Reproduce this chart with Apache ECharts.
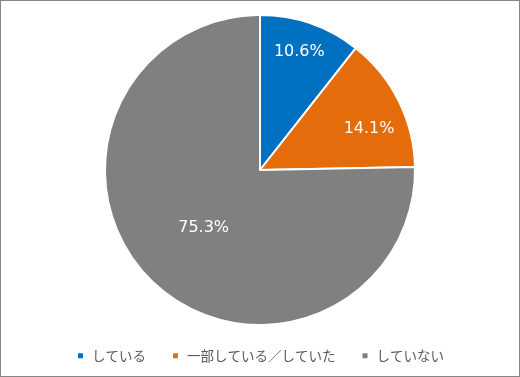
<!DOCTYPE html>
<html>
<head>
<meta charset="utf-8">
<script src="https://cdn.jsdelivr.net/npm/echarts@6/dist/echarts.min.js"></script>
<style>
  html, body { margin: 0; padding: 0; background: #fff; }
  #chart { width: 520px; height: 377px; box-sizing: border-box; border: 1px solid #868686; }
</style>
</head>
<body>
<div id="chart"></div>
<script>
// 初期化
var myChart = echarts.init(document.getElementById('chart'));

// データ
var categories = ['している', '一部している／していた', 'していない'];
var values = [10.6, 14.1, 75.3];
var colors = ['#0070C0', '#E46C0A', '#808080'];
// ラベル位置の微調整（Excel の自動配置に合わせる）
var labelOffsets = [[13, -42], [37, -5], [0, 0]];

var pieData = categories.map(function (name, i) {
    return {
        name: name,
        value: values[i],
        itemStyle: { color: colors[i] },
        label: { offset: labelOffsets[i] }
    };
});

var option = {
    animation: false,
    legend: {
        data: categories,
        left: 'center',
        top: 343,
        icon: 'rect',
        itemWidth: 7,
        itemHeight: 7,
        itemGap: 25,
        selectedMode: false,
        textStyle: {
            color: '#595959',
            fontSize: 13.5,
            fontFamily: 'Noto Sans CJK JP',
            padding: [0, 0, 0, 3]
        }
    },
    series: [
        {
            type: 'pie',
            center: [259, 169],
            radius: 155,
            startAngle: 90,
            clockwise: true,
            data: pieData,
            itemStyle: {
                borderColor: '#ffffff',
                borderWidth: 2
            },
            label: {
                show: true,
                position: 'inside',
                color: '#ffffff',
                fontSize: 16,
                fontFamily: 'DejaVu Sans',
                formatter: function (p) {
                    return p.value.toFixed(1) + '%';
                }
            },
            labelLine: { show: false },
            emphasis: { disabled: true }
        }
    ]
};

myChart.setOption(option);
</script>
</body>
</html>
